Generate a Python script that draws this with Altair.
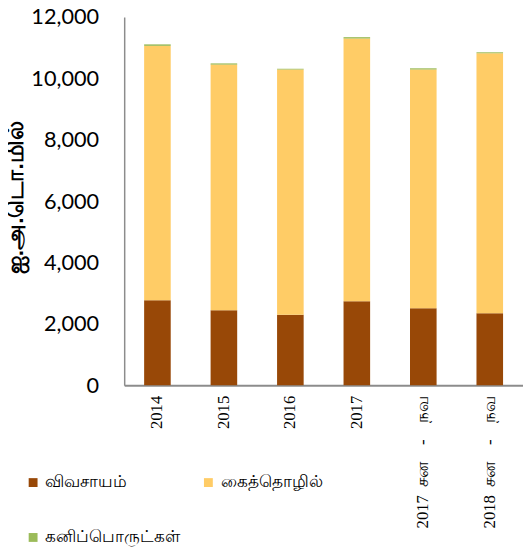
import altair as alt
import pandas as pd

periods = ["2014", "2015", "2016", "2017",
           "2017\u2002சன\u2002\u2002-\u2002\u2002நவ", "2018\u2002சன\u2002\u2002-\u2002\u2002நவ"]
agriculture = [2770, 2450, 2300, 2740, 2510, 2350]
industrial = [8290, 8000, 7990, 8560, 7780, 8470]
mineral = [50, 40, 25, 45, 40, 32]
series_names = ["விவசாயம்", "கைத்தொழில்", "கனிப்பொருட்கள்"]
legend_order = ["விவசாயம்", "கனிப்பொருட்கள்", "கைத்தொழில்"]
colors = ["#984807", "#FFCC66", "#9BBB59"]
y_ticks = [0, 2000, 4000, 6000, 8000, 10000, 12000]

rows = []
for i, p in enumerate(periods):
    for k, (name, vals) in enumerate(zip(series_names, [agriculture, industrial, mineral])):
        rows.append({"period": p, "series": name, "value": vals[i], "order": k})
df = pd.DataFrame(rows)

chart = alt.Chart(df).mark_bar().encode(
    x=alt.X("period:N", sort=periods,
            scale=alt.Scale(paddingInner=0.6, paddingOuter=0.3),
            axis=alt.Axis(title=None, labelAngle=-90, labelFont="Liberation Serif",
                          labelFontSize=17, labelColor="black", ticks=False,
                          domainColor="#8c8c8c", domainWidth=2, labelPadding=10,
                          labelLimit=200)),
    y=alt.Y("value:Q", stack="zero",
            scale=alt.Scale(domain=[0, 12000], nice=False),
            axis=alt.Axis(values=y_ticks, format=",.0f", grid=False, ticks=False,
                          labelFont="Lato", labelFontSize=22, labelColor="black",
                          labelPadding=26, domainColor="#8c8c8c", domainWidth=1.5,
                          title="ஐ.அ.டொ.மில்", titleFontSize=23, titleFontWeight="bold",
                          titleColor="black", titleAngle=-90, titleX=-110, titleY=183,
                          titleAlign="center", titleBaseline="middle")),
    color=alt.Color("series:N", sort=series_names,
                    scale=alt.Scale(domain=series_names, range=colors),
                    legend=alt.Legend(title=None, orient="none", legendX=-101, legendY=464,
                                      values=legend_order,
                                      columns=2, columnPadding=22, rowPadding=38,
                                      symbolType="square", symbolSize=81, symbolStrokeWidth=0,
                                      labelFontSize=17, labelColor="black", labelOffset=4)),
    order=alt.Order("order:Q"),
).properties(
    width=405, height=374,
    padding={"left": 118, "top": 5, "right": 0, "bottom": 160},
    autosize=alt.AutoSizeParams(type="none"),
).configure_view(stroke=None)

chart.save("out.html", embed_options={"renderer": "svg", "actions": False})
